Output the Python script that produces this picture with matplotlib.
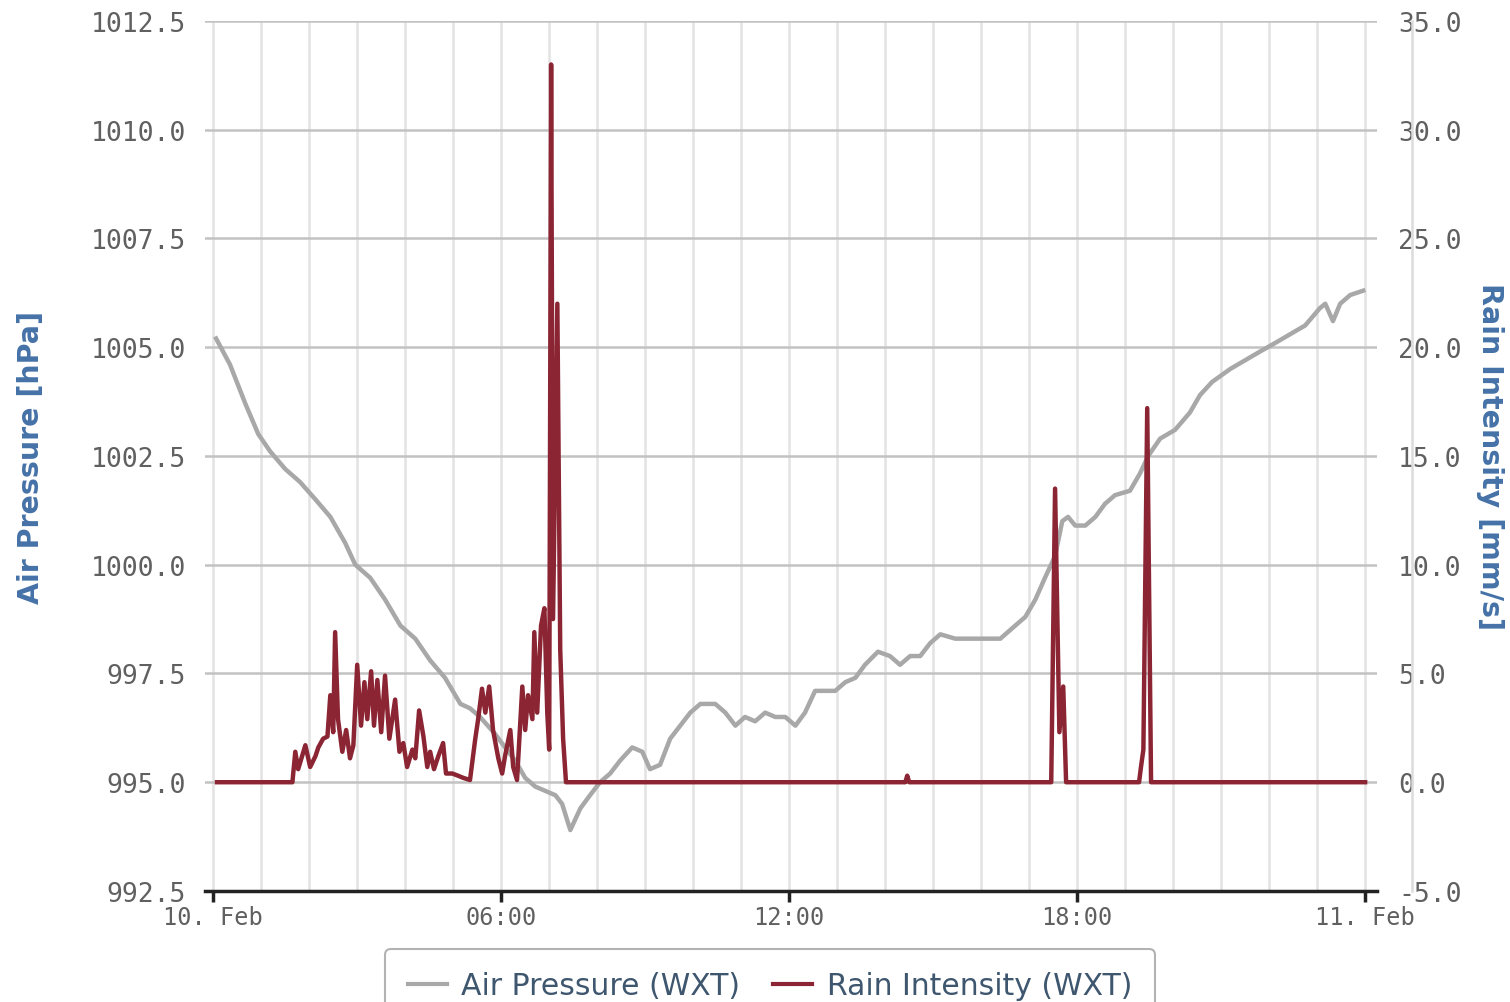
import matplotlib
matplotlib.use("Agg")
import matplotlib.pyplot as plt
from matplotlib.lines import Line2D
import matplotlib.transforms as mtransforms

# hours since 10 Feb 00:00
p_hours = [0.06, 0.35, 0.67, 0.94, 1.19, 1.50, 1.81, 2.13, 2.44, 2.75, 2.96, 3.27,
           3.58, 3.90, 4.21, 4.52, 4.83, 5.15, 5.35, 5.56, 5.88, 6.08, 6.29, 6.50,
           6.71, 6.92, 7.13, 7.27, 7.44, 7.65, 7.85, 8.06, 8.27, 8.48, 8.73, 8.94,
           9.10, 9.31, 9.52, 9.73, 9.94, 10.15, 10.46, 10.67, 10.88, 11.08, 11.29,
           11.50, 11.71, 11.92, 12.13, 12.33, 12.54, 12.75, 12.96, 13.17, 13.38,
           13.58, 13.85, 14.10, 14.31, 14.52, 14.73, 14.94, 15.15, 15.46, 15.77,
           16.08, 16.40, 16.71, 16.92, 17.13, 17.33, 17.54, 17.69, 17.81, 17.96,
           18.17, 18.38, 18.58, 18.79, 19.10, 19.31, 19.48, 19.73, 20.04, 20.35,
           20.56, 20.81, 21.19, 21.50, 21.81, 22.13, 22.44, 22.75, 23.06, 23.17,
           23.33, 23.48, 23.69, 23.96]
pressure = [1005.2, 1004.6, 1003.7, 1003.0, 1002.6, 1002.2, 1001.9, 1001.5, 1001.1,
            1000.5, 1000.0, 999.7, 999.2, 998.6, 998.3, 997.8, 997.4, 996.8, 996.7,
            996.5, 996.1, 995.8, 995.5, 995.1, 994.9, 994.8, 994.7, 994.5, 993.9,
            994.4, 994.7, 995.0, 995.2, 995.5, 995.8, 995.7, 995.3, 995.4, 996.0,
            996.3, 996.6, 996.8, 996.8, 996.6, 996.3, 996.5, 996.4, 996.6, 996.5,
            996.5, 996.3, 996.6, 997.1, 997.1, 997.1, 997.3, 997.4, 997.7, 998.0,
            997.9, 997.7, 997.9, 997.9, 998.2, 998.4, 998.3, 998.3, 998.3, 998.3,
            998.6, 998.8, 999.2, 999.7, 1000.2, 1001.0, 1001.1, 1000.9, 1000.9,
            1001.1, 1001.4, 1001.6, 1001.7, 1002.1, 1002.5, 1002.9, 1003.1, 1003.5,
            1003.9, 1004.2, 1004.5, 1004.7, 1004.9, 1005.1, 1005.3, 1005.5, 1005.9,
            1006.0, 1005.6, 1006.0, 1006.2, 1006.3]

r_hours = [0.08, 1.40, 1.65, 1.71, 1.77, 1.92, 2.02, 2.13, 2.19, 2.29, 2.38, 2.44,
           2.50, 2.54, 2.60, 2.69, 2.77, 2.85, 2.92, 3.00, 3.08, 3.15, 3.21, 3.29,
           3.35, 3.42, 3.50, 3.58, 3.67, 3.79, 3.88, 3.96, 4.04, 4.15, 4.21, 4.29,
           4.38, 4.46, 4.52, 4.60, 4.69, 4.79, 4.85, 4.98, 5.10, 5.21, 5.35, 5.46,
           5.52, 5.60, 5.67, 5.75, 5.83, 5.94, 6.02, 6.08, 6.19, 6.25, 6.33, 6.44,
           6.50, 6.56, 6.65, 6.69, 6.75, 6.83, 6.90, 6.96, 7.00, 7.04, 7.08, 7.17,
           7.23, 7.29, 7.35, 14.42, 14.46, 14.50, 17.46, 17.54, 17.63, 17.71, 17.77,
           19.29, 19.33, 19.38, 19.46, 19.54, 24.00]
rain = [0.0, 0.0, 0.0, 1.4, 0.6, 1.7, 0.7, 1.2, 1.6, 2.0, 2.1, 4.0,
        2.3, 6.9, 2.9, 1.4, 2.4, 1.1, 1.7, 5.4, 2.6, 4.6, 2.9, 5.1,
        2.6, 4.7, 2.3, 4.9, 2.0, 3.8, 1.4, 1.8, 0.7, 1.5, 1.1, 3.3,
        2.1, 0.7, 1.4, 0.6, 1.2, 1.8, 0.4, 0.4, 0.3, 0.2, 0.1, 2.0,
        2.9, 4.3, 3.2, 4.4, 2.4, 1.1, 0.4, 1.2, 2.4, 0.7, 0.1, 4.4,
        2.4, 4.0, 2.9, 6.9, 3.2, 7.2, 8.0, 3.2, 1.5, 33.0, 7.5, 22.0,
        6.1, 2.0, 0.0, 0.0, 0.3, 0.0, 0.0, 13.5, 2.3, 4.4, 0.0,
        0.0, 0.7, 1.5, 17.2, 0.0, 0.0]

x_ticks = [0, 6, 12, 18, 24]
x_labels = ["10. Feb", "06:00", "12:00", "18:00", "11. Feb"]
p_ticks = [992.5, 995.0, 997.5, 1000.0, 1002.5, 1005.0, 1007.5, 1010.0, 1012.5]
r_ticks = [-5, 0, 5, 10, 15, 20, 25, 30, 35]

label_col = "#606060"
title_col = "#4572A7"

fig = plt.figure(figsize=(15.1, 10.03), dpi=100)
ax = fig.add_axes([0.1358, 0.1107, 0.7762, 0.8674])
ax2 = ax.twinx()

ax.set_xlim(-0.17, 24.25)
ax.set_ylim(992.5, 1012.5)
ax2.set_ylim(-5, 35)

# grid: light hourly verticals, darker horizontals
for h in range(0, 25):
    ax.axvline(h, color="#e3e3e3", lw=1.8, zorder=0)
for p in p_ticks:
    ax.axhline(p, color="#c2c2c2", lw=1.8, zorder=0)

ax.plot(p_hours, pressure, color="#a8a8a8", lw=3.2, zorder=2)
ax2.plot(r_hours, rain, color="#8b2533", lw=3.2, zorder=3)

for s in ["top", "left", "right"]:
    ax.spines[s].set_visible(False)
    ax2.spines[s].set_visible(False)
ax2.spines["bottom"].set_visible(False)
ax.spines["bottom"].set_color("#222222")
ax.spines["bottom"].set_linewidth(2.5)

ax.set_xticks(x_ticks)
ax.set_xticklabels(x_labels, family="DejaVu Sans Mono", fontsize=17, color=label_col)
ax.tick_params(axis="x", direction="out", length=8, width=2.5, color="#222222", pad=2)

ax.set_yticks(p_ticks)
ax.set_yticklabels(["%.1f" % v for v in p_ticks], family="DejaVu Sans Mono",
                   fontsize=19, color=label_col)
ax.tick_params(axis="y", length=0, pad=14)

ax2.set_yticks(r_ticks)
ax2.set_yticklabels(["%.1f" % v for v in r_ticks], family="DejaVu Sans Mono",
                    fontsize=19, color=label_col)
ax2.tick_params(axis="y", length=0, pad=15)

ax.set_ylabel("Air Pressure [hPa]", color=title_col, fontsize=20.5, fontweight="bold",
              labelpad=0)
ax.yaxis.set_label_coords(-0.1365, 0.5)
ax2.set_ylabel("Rain Intensity [mm/s]", color=title_col, fontsize=20.5,
               fontweight="bold", rotation=270, labelpad=0, va="center")
ax2.yaxis.set_label_coords(1.096, 0.5)

# thin rule running behind the right-hand labels
tr = mtransforms.blended_transform_factory(fig.transFigure, ax.transAxes)
fig.add_artist(Line2D([1412 / 1510, 1412 / 1510], [0, 1], transform=tr,
                      color="#dcdcdc", lw=1.8, zorder=0.5))

handles = [Line2D([], [], color="#a8a8a8", lw=3), Line2D([], [], color="#8b2533", lw=3)]
leg = fig.legend(handles, ["Air Pressure (WXT)", "Rain Intensity (WXT)"],
                 loc="upper center", bbox_to_anchor=(0.51, 0.053), ncol=2,
                 fontsize=21.5, frameon=True, fancybox=True, handlelength=1.3,
                 handletextpad=0.5, columnspacing=1.1, borderpad=0.75,
                 borderaxespad=0)
leg.get_frame().set_edgecolor("#a0a0a0")
leg.get_frame().set_linewidth(1.5)
for t in leg.get_texts():
    t.set_color("#3e576f")

fig.savefig("out.png", dpi=100)
